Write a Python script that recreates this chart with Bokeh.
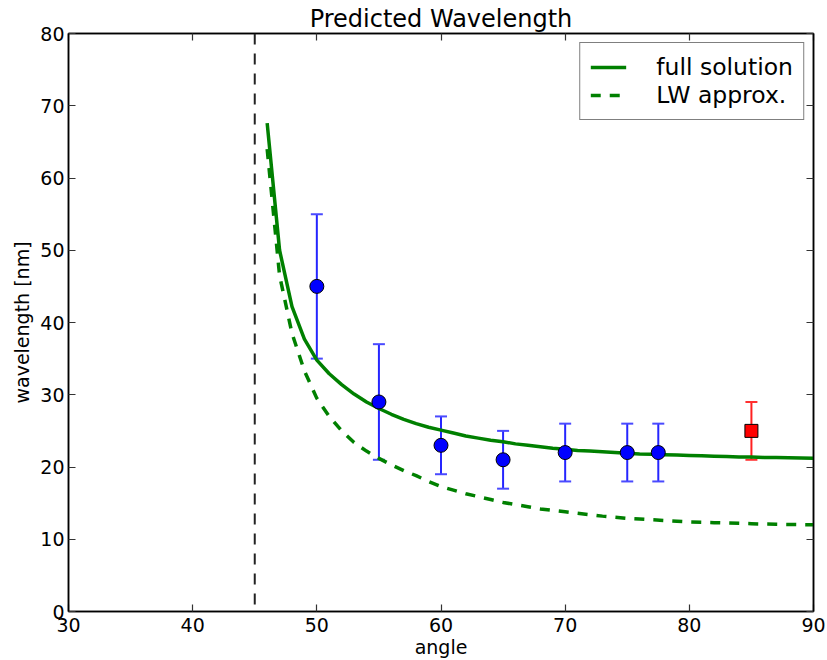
from bokeh.plotting import figure
from bokeh.models import (Range1d, LinearAxis, FixedTicker, Span, Whisker, TeeHead,
                          ColumnDataSource, Legend, LegendItem, CustomJSTickFormatter)
from bokeh.embed import file_html
from bokeh.resources import INLINE

# ---- data ----
angle_curve = [46, 47, 48, 49, 50, 51, 52, 53, 54, 55, 56, 57, 58, 59, 60,
               61, 62, 63, 64, 65, 66, 67, 68, 69, 70, 71, 72, 73, 74, 75,
               76, 77, 78, 79, 80, 81, 82, 83, 84, 85, 86, 87, 88, 89, 90]
full_solution = [67.6, 50.0, 42.2, 37.7, 34.8, 32.9, 31.4, 30.1, 29.0, 28.1,
                 27.3, 26.6, 26.0, 25.5, 25.1, 24.7, 24.3, 24.0, 23.7, 23.5,
                 23.2, 23.0, 22.8, 22.6, 22.45, 22.3, 22.2, 22.1, 22.0, 21.9,
                 21.8, 21.75, 21.7, 21.65, 21.6, 21.55, 21.5, 21.45, 21.4, 21.37,
                 21.33, 21.3, 21.27, 21.24, 21.2]
lw_approx = [64.0, 46.5, 38.5, 33.3, 29.5, 27.0, 25.0, 23.4, 22.2, 21.2,
             20.3, 19.5, 18.8, 18.0, 17.3, 16.8, 16.3, 15.9, 15.5, 15.1,
             14.8, 14.5, 14.2, 14.0, 13.8, 13.6, 13.4, 13.2, 13.05, 12.9,
             12.8, 12.7, 12.6, 12.5, 12.4, 12.35, 12.3, 12.25, 12.2, 12.15,
             12.1, 12.08, 12.05, 12.02, 12.0]

meas_angle = [50, 55, 60, 65, 70, 75, 77.5]
meas_wavelength = [45, 29, 23, 21, 22, 22, 22]
meas_err = [10, 8, 4, 4, 4, 4, 4]

red_angle = [85]
red_wavelength = [25]
red_err = [4]

critical_angle = 45
x_ticks = [30, 40, 50, 60, 70, 80, 90]
y_ticks = [0, 10, 20, 30, 40, 50, 60, 70, 80]

FONT = "DejaVu Sans"

p = figure(width=827, height=660,
           min_border_left=68, min_border_right=14, min_border_top=33, min_border_bottom=49,
           x_range=Range1d(30, 90), y_range=Range1d(0, 80),
           output_backend="svg", toolbar_location=None,
           title="Predicted Wavelength")
p.title.align = "center"
p.title.text_font = FONT
p.title.text_font_size = "24px"
p.title.text_font_style = "normal"
p.title.text_color = "black"
p.title.standoff = 2
p.xgrid.visible = False
p.ygrid.visible = False
p.outline_line_color = "black"
p.outline_line_width = 1.5
p.background_fill_color = "white"
p.border_fill_color = "white"


def style_axis(ax, ticks):
    ax.ticker = FixedTicker(ticks=ticks)
    ax.major_tick_in = 7
    ax.major_tick_out = 0
    ax.minor_tick_in = 0
    ax.minor_tick_out = 0
    ax.major_tick_line_color = "#333333"
    ax.major_tick_line_width = 1.2
    ax.axis_line_color = "black"
    ax.axis_line_width = 1.5
    ax.major_label_text_font = FONT
    ax.major_label_text_font_size = "19px"
    ax.major_label_text_color = "black"
    ax.axis_label_text_font = FONT
    ax.axis_label_text_font_size = "19px"
    ax.axis_label_text_font_style = "normal"
    ax.axis_label_text_color = "black"


style_axis(p.xaxis[0], x_ticks)
style_axis(p.yaxis[0], y_ticks)
p.xaxis[0].axis_label = "angle"
p.yaxis[0].axis_label = "wavelength [nm]"
p.xaxis[0].major_label_standoff = 6
p.xaxis[0].axis_label_standoff = 1
p.yaxis[0].major_label_standoff = 4
p.yaxis[0].axis_label_standoff = 4

blank = CustomJSTickFormatter(code="return ''")
top_axis = LinearAxis(formatter=blank)
right_axis = LinearAxis(formatter=blank)
style_axis(top_axis, x_ticks)
style_axis(right_axis, y_ticks)
for ax in (top_axis, right_axis):
    ax.major_label_standoff = 0
    ax.major_label_text_font_size = "0px"
p.add_layout(top_axis, "above")
p.add_layout(right_axis, "right")

# vertical asymptote
p.add_layout(Span(location=critical_angle, dimension="height", line_color="#222222",
                  line_width=2, line_dash="11 9"))

full_r = p.line(angle_curve, full_solution, line_color="#008000", line_width=3.5)
lw_r = p.line(angle_curve, lw_approx, line_color="#008000", line_width=3.5, line_dash="10 9")

# error bars
src = ColumnDataSource(dict(x=meas_angle, y=meas_wavelength,
                            lo=[v - e for v, e in zip(meas_wavelength, meas_err)],
                            hi=[v + e for v, e in zip(meas_wavelength, meas_err)]))
p.add_layout(Whisker(source=src, base="x", lower="lo", upper="hi", dimension="height",
                     line_color="#2525ff", line_width=2,
                     lower_head=TeeHead(size=12, line_color="#4a4aff", line_width=2),
                     upper_head=TeeHead(size=12, line_color="#4a4aff", line_width=2)))
p.scatter("x", "y", source=src, marker="circle", size=14, fill_color="#0000ff",
          line_color="black", line_width=1)

rsrc = ColumnDataSource(dict(x=red_angle, y=red_wavelength,
                             lo=[v - e for v, e in zip(red_wavelength, red_err)],
                             hi=[v + e for v, e in zip(red_wavelength, red_err)]))
p.add_layout(Whisker(source=rsrc, base="x", lower="lo", upper="hi", dimension="height",
                     line_color="#ff2020", line_width=2,
                     lower_head=TeeHead(size=12, line_color="#ff3030", line_width=2),
                     upper_head=TeeHead(size=12, line_color="#ff3030", line_width=2)))
p.scatter("x", "y", source=rsrc, marker="square", size=13, fill_color="#ff0000",
          line_color="black", line_width=1)

legend = Legend(items=[LegendItem(label="full solution", renderers=[full_r]),
                       LegendItem(label="LW approx.", renderers=[lw_r])],
                location="top_right")
legend.margin = 9
legend.padding = 10
legend.spacing = 0
legend.glyph_width = 36
legend.label_standoff = 30
legend.label_text_font = FONT
legend.label_text_font_size = "23.5px"
legend.label_text_color = "black"
legend.border_line_color = "black"
legend.border_line_width = 1.2
legend.background_fill_alpha = 1
p.add_layout(legend)

open("out.html", "w").write(file_html(p, INLINE))
